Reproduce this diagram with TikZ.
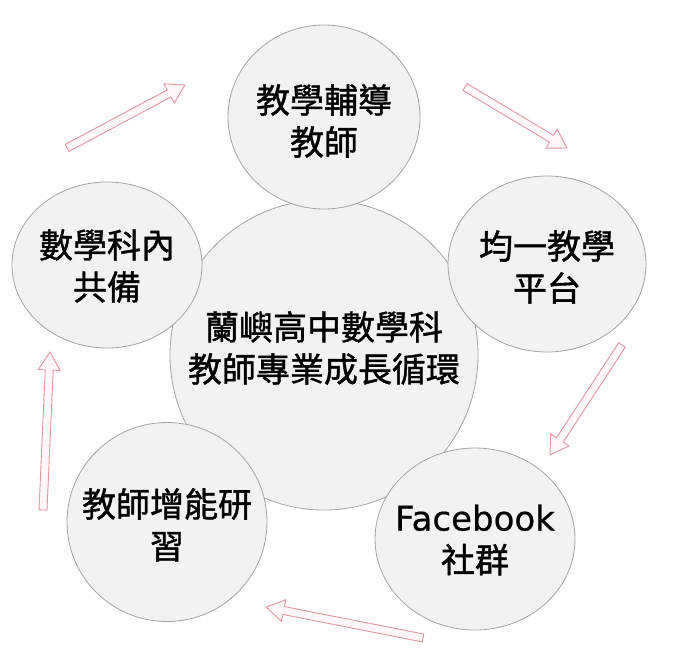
\documentclass[tikz,border=0pt]{standalone}
\usepackage{fontspec}
\setmainfont{Noto Sans CJK TC}[FakeBold=1.2]
\newfontfamily\latinfont{DejaVu Sans}[FakeBold=0.6]
\usetikzlibrary{shapes.geometric,calc}
\definecolor{circfill}{HTML}{F2F2F2}
\definecolor{circline}{HTML}{A3A3A3}
\definecolor{arrline}{RGB}{226,150,160}
\definecolor{arrfill}{RGB}{255,247,248}
\tikzset{
  bubble/.style={ellipse, draw=circline, fill=circfill, line width=0.8pt, inner sep=0pt},
  label text/.style={align=center, inner sep=0pt, font=\fontsize{34}{42}\selectfont},
  blockarr/.style={draw=arrline, fill=arrfill, line width=0.9pt, line join=miter}
}
\newcommand\blockarrow[2]{%
  \coordinate (hb) at ($(#2)!18pt!(#1)$);
  \draw[blockarr] ($(#1)!4pt!90:(#2)$) -- ($(hb)!4pt!90:(#2)$) -- ($(hb)!11pt!90:(#2)$) -- (#2)
     -- ($(hb)!11pt!-90:(#2)$) -- ($(hb)!4pt!-90:(#2)$) -- ($(#1)!4pt!-90:(#2)$) -- cycle;}
\begin{document}
\begin{tikzpicture}[x=1pt,y=-1pt]
\useasboundingbox (0,0) rectangle (676,650);
% centre circle
\node[bubble, minimum width=308pt, minimum height=310pt] (c) at (324,355) {};
% surrounding circles
\node[bubble, minimum width=192pt, minimum height=184pt] (top) at (324,117) {};
\node[bubble, minimum width=198pt, minimum height=176pt] (right) at (547,264) {};
\node[bubble, minimum width=200pt, minimum height=182pt] (br) at (475,539) {};
\node[bubble, minimum width=200pt, minimum height=199pt] (bl) at (167,522) {};
\node[bubble, minimum width=190pt, minimum height=166pt] (left) at (107,265) {};
% texts
\node[label text] (tc) at (324,348) {蘭嶼高中數學科\\教師專業成長循環};
\node[label text] (ttop) at (324,121) {教學輔導\\教師};
\node[label text] (tright) at (547,267) {均一教學\\平台};
\node[label text] (tbr) at (475,540) {{\latinfont Facebook}\\社群};
\node[label text] (tbl) at (167,525) {教師增能研\\習};
\node[label text] (tleft) at (107,266) {數學科內\\共備};
% arrows
\coordinate (a1s) at (67,148);  \coordinate (a1e) at (185,85);
\coordinate (a2s) at (465,87);  \coordinate (a2e) at (567,148);
\coordinate (a3s) at (622,345); \coordinate (a3e) at (550,455);
\coordinate (a4s) at (423,638); \coordinate (a4e) at (266,607);
\coordinate (a5s) at (43,510);  \coordinate (a5e) at (50,352);
\blockarrow{a1s}{a1e}
\blockarrow{a2s}{a2e}
\blockarrow{a3s}{a3e}
\blockarrow{a4s}{a4e}
\blockarrow{a5s}{a5e}
\end{tikzpicture}
\end{document}
